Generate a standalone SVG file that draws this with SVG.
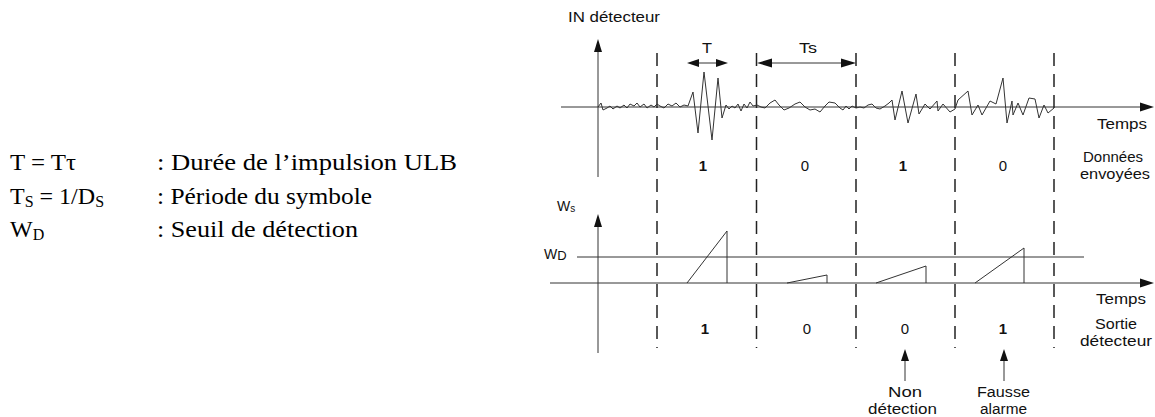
<svg xmlns="http://www.w3.org/2000/svg" width="1155" height="417" viewBox="0 0 1155 417">
<style>
.bg{fill:#fff}
.ax{stroke:#333;stroke-width:1;fill:none}
.dash{stroke:#222;stroke-width:1.5;stroke-dasharray:13 8;fill:none}
.sig{stroke:#333;stroke-width:1;fill:none;stroke-linejoin:miter}
.tri{stroke:#333;stroke-width:1;fill:none}
.lbl{font-family:"Liberation Sans",Arial,sans-serif;font-size:14px;fill:#111}
.num{font-family:"Liberation Sans",Arial,sans-serif;font-size:15px;fill:#111}
.b{font-weight:bold}
.tm{font-family:"Liberation Serif","Times New Roman",serif;font-size:24px;fill:#000}
.sub{font-size:16px}
.head{fill:#111;stroke:none}
</style>
<rect class="bg" x="0" y="0" width="1155" height="417"/>

<g id="legend">
  <text class="tm" x="10" y="170" textLength="66" lengthAdjust="spacingAndGlyphs">T = Tτ</text>
  <text class="tm" x="157" y="170" textLength="300" lengthAdjust="spacingAndGlyphs">: Durée de l’impulsion ULB</text>
  <text class="tm" x="10" y="204" font-size="25">T<tspan class="sub" dy="3">S</tspan><tspan dy="-3"> = 1/D</tspan><tspan class="sub" dy="3">S</tspan></text>
  <text class="tm" x="157" y="204" textLength="215" lengthAdjust="spacingAndGlyphs">: Période du symbole</text>
  <text class="tm" x="10" y="237" font-size="25">W<tspan class="sub" dy="3">D</tspan></text>
  <text class="tm" x="157" y="237" textLength="201" lengthAdjust="spacingAndGlyphs">: Seuil de détection</text>
</g>

<g id="connectors">
  <line class="ax" x1="598" y1="50" x2="598" y2="177"/>
  <polygon class="head" points="598,39 594,52 602,52"/>
  <line class="ax" x1="561" y1="107" x2="1142" y2="107"/>
  <polygon class="head" points="1154,107 1140,102.5 1140,111.5"/>
  <line class="ax" x1="598" y1="225" x2="598" y2="353"/>
  <polygon class="head" points="598,214 594,227 602,227"/>
  <line class="ax" x1="550" y1="283" x2="1142" y2="283"/>
  <polygon class="head" points="1154,283 1140,278.5 1140,287.5"/>
  <line class="ax" x1="577" y1="257" x2="1084" y2="257"/>
  <line class="dash" x1="657" y1="53" x2="657" y2="348"/>
  <line class="dash" x1="756.5" y1="53" x2="756.5" y2="348"/>
  <line class="dash" x1="856" y1="53" x2="856" y2="348"/>
  <line class="dash" x1="955" y1="53" x2="955" y2="348"/>
  <line class="dash" x1="1054" y1="53" x2="1054" y2="348"/>
  <line class="ax" x1="696" y1="63" x2="719" y2="63"/>
  <polygon class="head" points="687,63 699,59 699,67"/>
  <polygon class="head" points="728,63 716,59 716,67"/>
  <line class="ax" x1="768" y1="63" x2="845" y2="63"/>
  <polygon class="head" points="757,63 772,58.5 772,67.5"/>
  <polygon class="head" points="856,63 841,58.5 841,67.5"/>
  <line class="ax" x1="905" y1="358" x2="905" y2="381"/>
  <polygon class="head" points="905,349 901,361 909,361"/>
  <line class="ax" x1="1004" y1="358" x2="1004" y2="381"/>
  <polygon class="head" points="1004,349 1000,361 1008,361"/>
</g>

<g id="signal">
  <polyline class="sig" points="598,107 601,103 603,110 607,108 610,106 613,109 617,106 620,108 624,105 627,108 630,104 634,106 637,103 640,107 644,104 647,108 651,105 654,107 657,104 660,106 664,108 668,104 672,106 676,103 680,107 684,105 688,106 693,92 698,133 704,72 712,140 718,78 722,118 726,105 729,109 732,106 735,108 738,104 741,111 744,104 747,108 750,102 753,106 757,105 761,107 765,108 770,103 775,100 779,105 784,110 789,108 795,104 800,102 805,107 810,110 815,109 820,112 825,106 829,102 835,103 840,108 843,110 846,106 849,109 852,106 856,108 860,107 864,108 868,105 872,104 876,108 880,109 885,106 889,103 892,100 895,120 902,91 908,123 916,94 919,114 925,104 930,109 937,101 938,111 943,104 950,112 955,109 958,100 968,91 972,115 978,105 982,115 990,101 996,104 1003,78 1007,123 1012,101 1013,115 1018,103 1023,115 1029,98 1035,99 1039,118 1044,105 1048,113 1054,108"/>
</g>

<g id="integrator">
  <polyline class="tri" points="687,283 727,231 727,283"/>
  <polyline class="tri" points="787,283 827,275 827,283"/>
  <polyline class="tri" points="876,283 926,266 926,283"/>
  <polyline class="tri" points="975,283 1024,248 1024,283"/>
</g>

<g id="labels-upper">
  <text class="lbl" x="568" y="22" textLength="92" lengthAdjust="spacingAndGlyphs">IN détecteur</text>
  <text class="lbl" x="702" y="53" textLength="10" lengthAdjust="spacingAndGlyphs">T</text>
  <text class="lbl" x="799" y="53" textLength="18" lengthAdjust="spacingAndGlyphs">Ts</text>
  <text class="lbl" x="1097" y="129" textLength="50" lengthAdjust="spacingAndGlyphs">Temps</text>
  <text class="num b" x="703" y="171" text-anchor="middle">1</text>
  <text class="num" x="805" y="171" text-anchor="middle">0</text>
  <text class="num b" x="903" y="171" text-anchor="middle">1</text>
  <text class="num" x="1003" y="171" text-anchor="middle">0</text>
  <text class="lbl" x="1083" y="162" textLength="60" lengthAdjust="spacingAndGlyphs">Données</text>
  <text class="lbl" x="1080" y="179" textLength="70" lengthAdjust="spacingAndGlyphs">envoyées</text>
</g>

<g id="labels-lower">
  <text class="lbl" x="557" y="211" font-size="15">W<tspan font-size="10" dy="1">s</tspan></text>
  <text class="lbl" x="544" y="259" font-size="15">W<tspan dy="1" font-size="13">D</tspan></text>
  <text class="lbl" x="1096" y="304" textLength="50" lengthAdjust="spacingAndGlyphs">Temps</text>
  <text class="num b" x="705" y="334" text-anchor="middle">1</text>
  <text class="num" x="807" y="334" text-anchor="middle">0</text>
  <text class="num" x="905" y="334" text-anchor="middle">0</text>
  <text class="num b" x="1003" y="334" text-anchor="middle">1</text>
  <text class="lbl" x="1095" y="329" textLength="42" lengthAdjust="spacingAndGlyphs">Sortie</text>
  <text class="lbl" x="1080" y="346" textLength="72" lengthAdjust="spacingAndGlyphs">détecteur</text>
</g>

<g id="annot-non-detection">
  <text class="lbl" x="888" y="397" textLength="34" lengthAdjust="spacingAndGlyphs">Non</text>
  <text class="lbl" x="868" y="414" textLength="69" lengthAdjust="spacingAndGlyphs">détection</text>
</g>
<g id="annot-fausse-alarme">
  <text class="lbl" x="977" y="397" textLength="53" lengthAdjust="spacingAndGlyphs">Fausse</text>
  <text class="lbl" x="980" y="414" textLength="47" lengthAdjust="spacingAndGlyphs">alarme</text>
</g>
</svg>
